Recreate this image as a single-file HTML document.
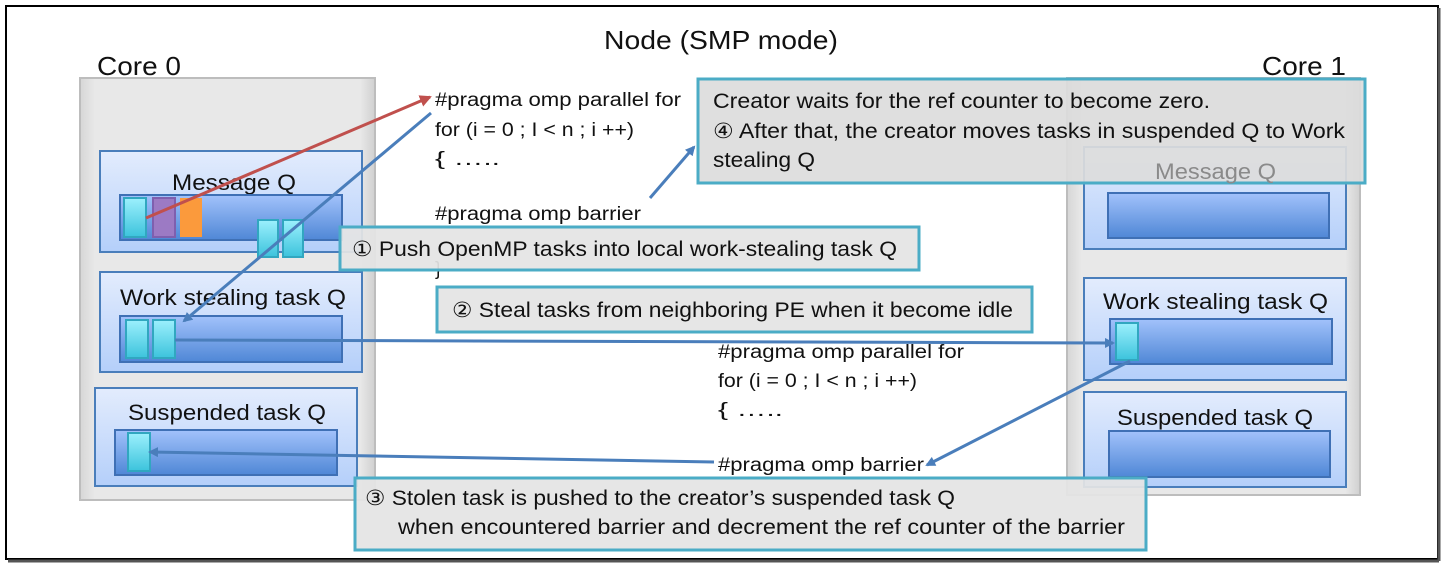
<!DOCTYPE html>
<html><head><meta charset="utf-8"><style>
html,body{margin:0;padding:0;background:#fff;}
svg{display:block;font-family:"Liberation Sans","DejaVu Sans",sans-serif;}
</style></head><body>
<svg width="1451" height="575" viewBox="0 0 1451 575" xmlns="http://www.w3.org/2000/svg">
<defs>
<linearGradient id="q" x1="0" y1="0" x2="0" y2="1"><stop offset="0" stop-color="#e3ecfd"/><stop offset="1" stop-color="#b4cffa"/></linearGradient>
<linearGradient id="bar" x1="0" y1="0" x2="0" y2="1"><stop offset="0" stop-color="#a2c2fb"/><stop offset="1" stop-color="#4f87d6"/></linearGradient>
<linearGradient id="cy" x1="0" y1="0" x2="0" y2="1"><stop offset="0" stop-color="#9cf0fd"/><stop offset="1" stop-color="#3cc3dc"/></linearGradient>
<linearGradient id="core" x1="0" y1="0" x2="1" y2="0"><stop offset="0" stop-color="#d6d6d6"/><stop offset="0.05" stop-color="#e8e8e8"/><stop offset="0.95" stop-color="#e8e8e8"/><stop offset="1" stop-color="#d0d0d0"/></linearGradient>
<marker id="ab" markerWidth="10" markerHeight="10" refX="8" refY="5" orient="auto" markerUnits="userSpaceOnUse"><path d="M0,0 L10,5 L0,10 z" fill="#4a7ebb"/></marker>
<marker id="ar" markerWidth="12" markerHeight="12" refX="10" refY="6" orient="auto" markerUnits="userSpaceOnUse"><path d="M0,0 L12,6 L0,12 z" fill="#c0504d"/></marker>
</defs>
<rect x="6" y="6" width="1432" height="553" fill="#fff" stroke="#000" stroke-width="2"/>
<line x1="1439" y1="8" x2="1439" y2="561" stroke="#555" stroke-width="3"/>
<line x1="8" y1="561" x2="1439" y2="561" stroke="#555" stroke-width="3"/>
<g lengthAdjust="spacingAndGlyphs">
<text x="604" y="49" font-size="26" textLength="234" lengthAdjust="spacingAndGlyphs" fill="#111">Node (SMP mode)</text>
<text x="97" y="75" font-size="26" textLength="84" lengthAdjust="spacingAndGlyphs" fill="#111">Core 0</text>
<text x="1262" y="75" font-size="26" textLength="84" lengthAdjust="spacingAndGlyphs" fill="#111">Core 1</text>
</g>

<!-- Core 0 -->
<rect x="80" y="78" width="295" height="422" fill="url(#core)" stroke="#bdbdbd" stroke-width="2"/>
<rect x="100" y="151" width="262" height="101" fill="url(#q)" stroke="#4a7ebb" stroke-width="2"/>
<text x="172" y="190" font-size="22" textLength="124" lengthAdjust="spacingAndGlyphs" fill="#111">Message Q</text>
<rect x="120" y="195" width="222" height="45" fill="url(#bar)" stroke="#3f70b5" stroke-width="2"/>
<rect x="124" y="198" width="22" height="39" fill="url(#cy)" stroke="#31a7c0" stroke-width="2"/>
<rect x="153" y="198" width="22" height="39" fill="#9c7ac4" stroke="#7f5fae" stroke-width="2"/>
<rect x="180" y="198" width="22" height="39" fill="#fb9a3c"/>
<rect x="258" y="220" width="20" height="37" fill="url(#cy)" stroke="#31a7c0" stroke-width="2"/>
<rect x="283" y="220" width="20" height="37" fill="url(#cy)" stroke="#31a7c0" stroke-width="2"/>

<rect x="100" y="272" width="262" height="100" fill="url(#q)" stroke="#4a7ebb" stroke-width="2"/>
<text x="120" y="305" font-size="22" textLength="226" lengthAdjust="spacingAndGlyphs" fill="#111">Work stealing task Q</text>
<rect x="120" y="316" width="222" height="46" fill="url(#bar)" stroke="#3f70b5" stroke-width="2"/>
<rect x="126" y="320" width="22" height="38" fill="url(#cy)" stroke="#31a7c0" stroke-width="2"/>
<rect x="153" y="320" width="22" height="38" fill="url(#cy)" stroke="#31a7c0" stroke-width="2"/>

<rect x="95" y="388" width="262" height="98" fill="url(#q)" stroke="#4a7ebb" stroke-width="2"/>
<text x="128" y="420" font-size="22" textLength="198" lengthAdjust="spacingAndGlyphs" fill="#111">Suspended task Q</text>
<rect x="115" y="430" width="222" height="45" fill="url(#bar)" stroke="#3f70b5" stroke-width="2"/>
<rect x="128" y="433" width="22" height="38" fill="url(#cy)" stroke="#31a7c0" stroke-width="2"/>

<!-- Core 1 -->
<rect x="1067" y="78" width="293" height="417" fill="url(#core)" stroke="#bdbdbd" stroke-width="2"/>
<rect x="1084" y="147" width="262" height="102" fill="url(#q)" stroke="#4a7ebb" stroke-width="2"/>
<rect x="1108" y="193" width="221" height="45" fill="url(#bar)" stroke="#3f70b5" stroke-width="2"/>
<rect x="1084" y="278" width="262" height="102" fill="url(#q)" stroke="#4a7ebb" stroke-width="2"/>
<text x="1103" y="309" font-size="22" textLength="225" lengthAdjust="spacingAndGlyphs" fill="#111">Work stealing task Q</text>
<rect x="1110" y="319" width="222" height="45" fill="url(#bar)" stroke="#3f70b5" stroke-width="2"/>
<rect x="1116" y="323" width="22" height="37" fill="url(#cy)" stroke="#31a7c0" stroke-width="2"/>
<rect x="1084" y="392" width="262" height="95" fill="url(#q)" stroke="#4a7ebb" stroke-width="2"/>
<text x="1117" y="425" font-size="22" textLength="196" lengthAdjust="spacingAndGlyphs" fill="#111">Suspended task Q</text>
<rect x="1109" y="431" width="221" height="46" fill="url(#bar)" stroke="#3f70b5" stroke-width="2"/>

<!-- code -->
<g font-size="19" fill="#111">
<text x="435" y="106" textLength="246" lengthAdjust="spacingAndGlyphs">#pragma omp parallel for</text>
<text x="435" y="136" textLength="199" lengthAdjust="spacingAndGlyphs">for (i = 0 ; I &lt; n ; i ++)</text>
<text x="435" y="165" textLength="65" lengthAdjust="spacingAndGlyphs">{ …..</text>
<text x="435" y="220" textLength="206" lengthAdjust="spacingAndGlyphs">#pragma omp barrier</text>
<text x="435" y="275">}</text>
<text x="718" y="358" textLength="246" lengthAdjust="spacingAndGlyphs">#pragma omp parallel for</text>
<text x="718" y="387" textLength="199" lengthAdjust="spacingAndGlyphs">for (i = 0 ; I &lt; n ; i ++)</text>
<text x="718" y="416" textLength="65" lengthAdjust="spacingAndGlyphs">{ …..</text>
<text x="718" y="471" textLength="206" lengthAdjust="spacingAndGlyphs">#pragma omp barrier</text>
</g>

<!-- arrows -->
<line x1="146" y1="218" x2="430" y2="97" stroke="#c0504d" stroke-width="3" marker-end="url(#ar)"/>
<line x1="431" y1="113" x2="184" y2="321" stroke="#4a7ebb" stroke-width="3" marker-end="url(#ab)"/>
<line x1="650" y1="198" x2="694" y2="147" stroke="#4a7ebb" stroke-width="3" marker-end="url(#ab)"/>
<line x1="175" y1="340" x2="1113" y2="343" stroke="#4a7ebb" stroke-width="3" marker-end="url(#ab)"/>
<line x1="1130" y1="361" x2="927" y2="465" stroke="#4a7ebb" stroke-width="3" marker-end="url(#ab)"/>
<line x1="714" y1="462" x2="150" y2="452" stroke="#4a7ebb" stroke-width="3" marker-end="url(#ab)"/>

<!-- callouts -->
<g stroke="#4bacc6" stroke-width="3">
<rect x="698" y="79" width="667" height="104" fill="#dcdcdc" fill-opacity="0.92"/>
<rect x="340" y="227" width="579" height="43" fill="#e4e4e4" fill-opacity="0.93"/>
<rect x="437" y="287" width="595" height="45" fill="#e4e4e4" fill-opacity="0.93"/>
<rect x="355" y="478" width="791" height="72" fill="#e4e4e4" fill-opacity="0.93"/>
</g>
<text x="1155" y="179" font-size="22" textLength="121" lengthAdjust="spacingAndGlyphs" fill="#8a8a8a">Message Q</text>
<g font-size="21" fill="#111">
<text x="713" y="108" textLength="497" lengthAdjust="spacingAndGlyphs">Creator waits for the ref counter to become zero.</text>
<text x="713" y="138" textLength="632" lengthAdjust="spacingAndGlyphs">④ After that, the creator moves tasks in suspended Q to Work</text>
<text x="713" y="167" textLength="102" lengthAdjust="spacingAndGlyphs">stealing Q</text>
<text x="352" y="256" textLength="545" lengthAdjust="spacingAndGlyphs">① Push OpenMP tasks into local work-stealing task Q</text>
<text x="452" y="317" textLength="561" lengthAdjust="spacingAndGlyphs">② Steal tasks from neighboring PE when it become idle</text>
<text x="365" y="505" textLength="590" lengthAdjust="spacingAndGlyphs">③ Stolen task is pushed to the creator’s suspended task Q</text>
<text x="398" y="534" textLength="727" lengthAdjust="spacingAndGlyphs">when encountered barrier and decrement the ref counter of the barrier</text>
</g>
</svg>
</body></html>
